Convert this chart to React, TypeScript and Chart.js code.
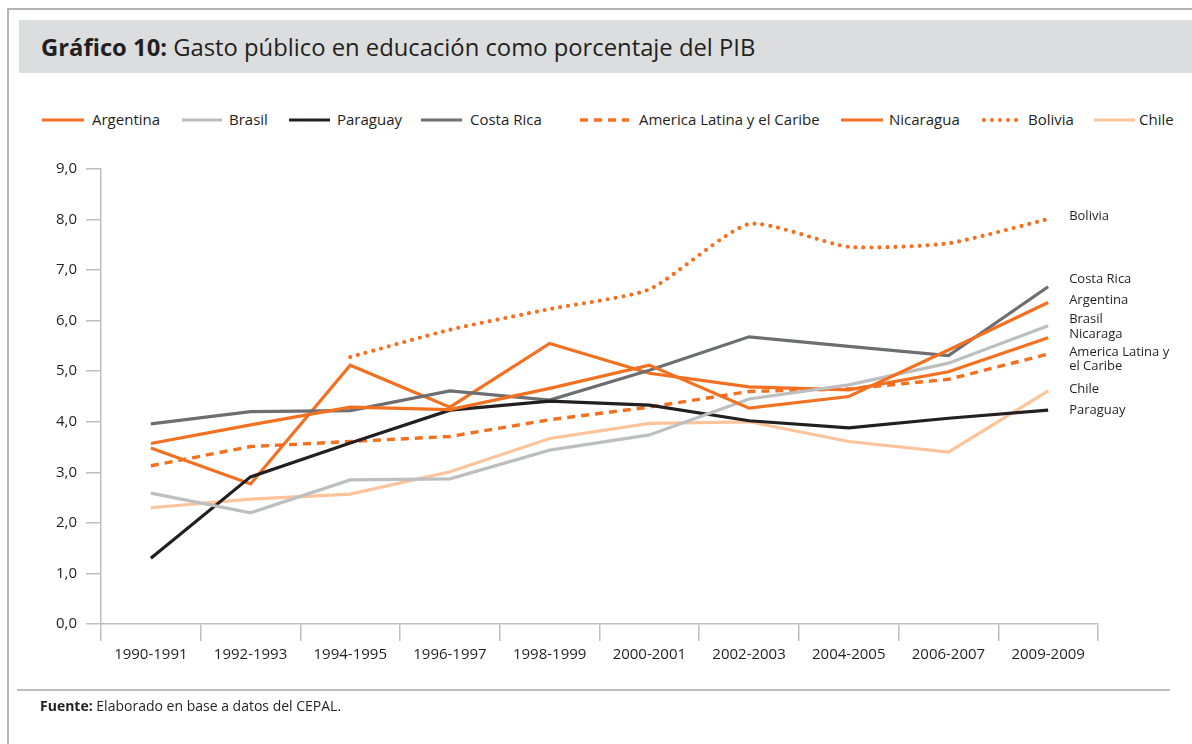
import React, { useEffect, useRef } from 'react';
import { Chart, registerables } from 'chart.js';

Chart.register(...registerables);

// ---------- DATA ----------
const categories = [
  '1990-1991', '1992-1993', '1994-1995', '1996-1997', '1998-1999',
  '2000-2001', '2002-2003', '2004-2005', '2006-2007', '2009-2009',
];
const argentina = [3.57, 3.94, 4.29, 4.24, 4.66, 5.12, 4.27, 4.50, 5.42, 6.36];
const brasil = [2.59, 2.20, 2.85, 2.87, 3.44, 3.74, 4.45, 4.73, 5.16, 5.90];
const paraguay = [1.30, 2.91, 3.58, 4.23, 4.41, 4.33, 4.02, 3.88, 4.07, 4.23];
const costaRica = [3.96, 4.20, 4.22, 4.61, 4.43, 5.02, 5.68, 5.49, 5.31, 6.67];
const americaLatina = [3.13, 3.51, 3.61, 3.71, 4.04, 4.29, 4.60, 4.65, 4.84, 5.34];
const nicaragua = [3.48, 2.77, 5.12, 4.29, 5.55, 4.96, 4.69, 4.63, 4.99, 5.66];
const bolivia = [null, null, 5.28, 5.82, 6.23, 6.62, 7.91, 7.46, 7.53, 8.01];
const chile = [2.30, 2.47, 2.57, 3.01, 3.67, 3.97, 4.00, 3.61, 3.40, 4.61];
const yTickLabels = ['0,0', '1,0', '2,0', '3,0', '4,0', '5,0', '6,0', '7,0', '8,0', '9,0'];

const titleBold = 'Gráfico 10:';
const titleRest = ' Gasto público en educación como porcentaje del PIB';
const sourceBold = 'Fuente:';
const sourceRest = ' Elaborado en base a datos del CEPAL.';

// ---------- STYLES ----------
const ORANGE = '#F37021';
const LIGHTGRAY = '#BCBEC0';
const DARK = '#231F20';
const MIDGRAY = '#6D6E71';
const PEACH = '#FDC39A';
const AXIS = '#BCBEC0';
const TEXT = '#231F20';
const FONT = '"Open Sans", "Noto Sans", sans-serif';

type Style = { color: string; width: number; dash: number[]; cap: CanvasLineCap; tension: number };
const solid = (color: string): Style => ({ color, width: 3.2, dash: [], cap: 'butt', tension: 0 });

const series = [
  { name: 'Argentina', label: 'Argentina', data: argentina, style: solid(ORANGE) },
  { name: 'Brasil', label: 'Brasil', data: brasil, style: solid(LIGHTGRAY) },
  { name: 'Paraguay', label: 'Paraguay', data: paraguay, style: solid(DARK) },
  { name: 'Costa Rica', label: 'Costa Rica', data: costaRica, style: solid(MIDGRAY) },
  {
    name: 'America Latina y el Caribe', label: 'America Latina y\nel Caribe', data: americaLatina,
    style: { color: ORANGE, width: 3.4, dash: [8, 6], cap: 'butt' as CanvasLineCap, tension: 0 },
  },
  { name: 'Nicaragua', label: 'Nicaraga', data: nicaragua, style: solid(ORANGE) },
  {
    name: 'Bolivia', label: 'Bolivia', data: bolivia,
    style: { color: ORANGE, width: 4.2, dash: [0, 8], cap: 'round' as CanvasLineCap, tension: 0.2 },
  },
  { name: 'Chile', label: 'Chile', data: chile, style: solid(PEACH) },
];

// legend layout (pixels): sample start, sample width, text start
const legendLayout = [
  [42, 42, 92], [182, 40, 229], [289, 41, 337], [421, 41, 470],
  [580, 49, 639], [841, 42, 889], [982, 39, 1028], [1094, 41, 1139],
];
// end-label vertical offsets (pixels) from each series' last point
const endLabelDy = [-2, -6, 0, -7, -2, -4, -3, -2];

export default function App() {
  const ref = useRef<HTMLCanvasElement>(null);

  useEffect(() => {
    const endLabels = {
      id: 'endLabels',
      afterDatasetsDraw(chart: any) {
        const ctx = chart.ctx as CanvasRenderingContext2D;
        const xs = chart.scales.x;
        const ys = chart.scales.y;
        const x = xs.getPixelForValue(categories.length - 1) + 21;
        ctx.save();
        ctx.font = `13px ${FONT}`;
        ctx.fillStyle = TEXT;
        ctx.textAlign = 'left';
        ctx.textBaseline = 'middle';
        series.forEach((s, i) => {
          const v = s.data[s.data.length - 1] as number;
          const y = ys.getPixelForValue(v) + endLabelDy[i];
          s.label.split('\n').forEach((line, k) => ctx.fillText(line, x, y + k * 14));
        });
        ctx.restore();
      },
    };

    const chart = new Chart(ref.current as HTMLCanvasElement, {
      type: 'line',
      data: {
        labels: categories,
        datasets: series.map((s) => ({
          label: s.name,
          data: s.data as any,
          borderColor: s.style.color,
          backgroundColor: s.style.color,
          borderWidth: s.style.width,
          borderDash: s.style.dash,
          borderCapStyle: s.style.cap,
          borderJoinStyle: 'miter' as CanvasLineJoin,
          tension: s.style.tension,
          pointRadius: 0,
          fill: false,
          spanGaps: false,
        })),
      },
      options: {
        animation: false,
        responsive: false,
        maintainAspectRatio: false,
        layout: { padding: { top: 169, right: 94, left: 0, bottom: 0 } },
        plugins: { legend: { display: false }, tooltip: { enabled: false } },
        scales: {
          x: {
            offset: true,
            grid: { offset: true, drawOnChartArea: false, drawTicks: true, tickLength: 17, color: AXIS, lineWidth: 1.5 },
            border: { display: true, color: AXIS, width: 1.5 },
            ticks: { color: TEXT, font: { family: FONT, size: 15 }, padding: 5, maxRotation: 0, autoSkip: false },
            afterFit: (s: any) => { s.height = 120; },
          },
          y: {
            min: 0,
            max: 9,
            grid: { drawOnChartArea: false, drawTicks: true, tickLength: 15, color: AXIS, lineWidth: 1.5 },
            border: { display: true, color: AXIS, width: 1.5 },
            ticks: {
              stepSize: 1,
              color: TEXT,
              font: { family: FONT, size: 15 },
              padding: 9,
              callback: (v: any) => yTickLabels[Math.round(Number(v))],
            },
            afterFit: (s: any) => { s.width = 101; },
          },
        },
      },
      plugins: [endLabels],
    });
    return () => chart.destroy();
  }, []);

  return (
    <div style={{ position: 'absolute', left: 0, top: 0, width: 1192, height: 744, overflow: 'hidden', background: '#fff', fontFamily: FONT, color: TEXT }}>
      <div style={{ position: 'absolute', left: 7, top: 8, width: 1300, height: 900, borderLeft: '2px solid #B1B3B6', borderTop: '2px solid #B1B3B6' }} />
      <div style={{ position: 'absolute', left: 19, top: 20, width: 1200, height: 53, background: '#DCDDDE' }} />
      <div style={{ position: 'absolute', left: 41, top: 35.5, fontSize: 23.8, lineHeight: 1, whiteSpace: 'pre' }}>
        <b style={{ fontWeight: 700 }}>{titleBold}</b>{titleRest}
      </div>
      {series.map((s, i) => {
        const [sx, sw, tx] = legendLayout[i];
        return (
          <React.Fragment key={s.name}>
            <svg style={{ position: 'absolute', left: sx, top: 114 }} width={sw} height={12}>
              <line x1={s.style.cap === 'round' ? 2 : 0} y1={6} x2={sw} y2={6} stroke={s.style.color} strokeWidth={s.style.width}
                strokeDasharray={s.style.dash.length ? s.style.dash.join(' ') : undefined} strokeLinecap={s.style.cap} />
            </svg>
            <div style={{ position: 'absolute', left: tx, top: 111.5, fontSize: 15, lineHeight: 1, whiteSpace: 'pre' }}>{s.name}</div>
          </React.Fragment>
        );
      })}
      <canvas ref={ref} width={1192} height={744} style={{ position: 'absolute', left: 0, top: 0, width: 1192, height: 744 }} />
      <div style={{ position: 'absolute', left: 17, top: 689, width: 1153, height: 0, borderTop: '2px solid #BCBEC0' }} />
      <div style={{ position: 'absolute', left: 40, top: 698.5, fontSize: 14, lineHeight: 1, whiteSpace: 'pre' }}>
        <b style={{ fontWeight: 700 }}>{sourceBold}</b>{sourceRest}
      </div>
    </div>
  );
}
